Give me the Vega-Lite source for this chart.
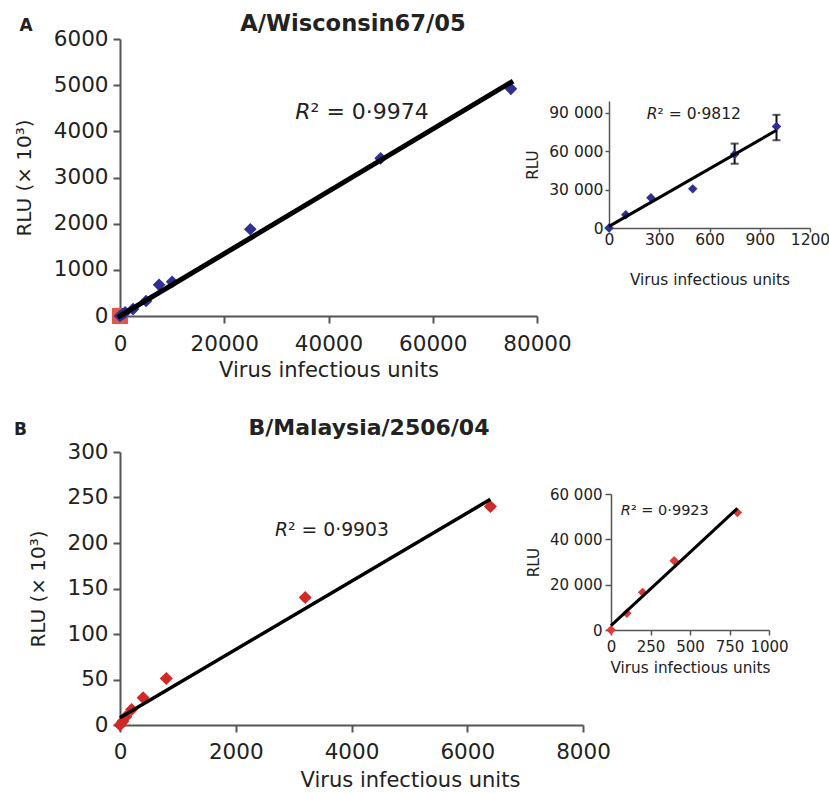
{
  "$schema": "https://vega.github.io/schema/vega-lite/v6.json",
  "padding": {"left": 14, "top": 12, "right": 0, "bottom": 0},
  "background": "white",
  "config": {
    "font": "DejaVu Sans",
    "view": {"stroke": null},
    "axis": {"grid": false, "labelFlush": false, "labelOverlap": false, "domainColor": "#555555", "tickColor": "#555555", "labelColor": "#222222", "titleColor": "#222222", "titleFontWeight": "normal", "labelFont": "DejaVu Sans", "titleFont": "DejaVu Sans"},
    "text": {"font": "DejaVu Sans", "color": "#222222"}
  },
  "datasets": {
    "a_pts": [
      {"x": 0, "y": 0}, {"x": 500, "y": 40}, {"x": 1000, "y": 80}, {"x": 2500, "y": 150},
      {"x": 5000, "y": 325}, {"x": 7500, "y": 675}, {"x": 10000, "y": 740},
      {"x": 25000, "y": 1880}, {"x": 50000, "y": 3415}, {"x": 75000, "y": 4920}
    ],
    "a_red": [{"x": 0, "y": 0}],
    "a_fit": [{"x": 0, "y": 0}, {"x": 75000, "y": 5060}],
    "a_txt": [
      {"part": "title", "t": "A/Wisconsin67/05", "x": 44700, "y": 6182},
      {"part": "panel", "t": "A", "x": -18034, "y": 6182},
      {"part": "R", "t": "R", "x": 36570, "y": 4273},
      {"part": "rest", "t": "² = 0·9974", "x": 36570, "y": 4273}
    ],
    "ai_pts": [
      {"x": 0, "y": 0}, {"x": 100, "y": 10400}, {"x": 250, "y": 23500},
      {"x": 500, "y": 30500}, {"x": 750, "y": 57400}, {"x": 1000, "y": 79100}
    ],
    "ai_err": [
      {"x": 750, "lo": 50100, "hi": 65800},
      {"x": 1000, "lo": 68400, "hi": 88200}
    ],
    "ai_fit": [{"x": 0, "y": 1300}, {"x": 1000, "y": 76200}],
    "ai_txt": [
      {"part": "R", "t": "R", "x": 290, "y": 84900},
      {"part": "rest", "t": "² = 0·9812", "x": 290, "y": 84900}
    ],
    "b_pts": [
      {"x": 0, "y": 0}, {"x": 50, "y": 4}, {"x": 100, "y": 9}, {"x": 200, "y": 17},
      {"x": 400, "y": 30}, {"x": 800, "y": 51}, {"x": 3200, "y": 140}, {"x": 6400, "y": 240}
    ],
    "b_fit": [{"x": 0, "y": 8}, {"x": 6400, "y": 248}],
    "b_txt": [
      {"part": "title", "t": "B/Malaysia/2506/04", "x": 4302, "y": 318.7},
      {"part": "panel", "t": "B", "x": -1719, "y": 318.7},
      {"part": "R", "t": "R", "x": 2903, "y": 207.2},
      {"part": "rest", "t": "² = 0·9903", "x": 2903, "y": 207.2}
    ],
    "bi_pts": [
      {"x": 0, "y": 0}, {"x": 100, "y": 7400}, {"x": 200, "y": 16600},
      {"x": 400, "y": 30600}, {"x": 800, "y": 51800}
    ],
    "bi_fit": [{"x": 0, "y": 1900}, {"x": 800, "y": 53700}],
    "bi_txt": [
      {"part": "R", "t": "R", "x": 126, "y": 50770},
      {"part": "rest", "t": "² = 0·9923", "x": 126, "y": 50770}
    ],
    "blank": [{"k": 1}]
  },
  "vconcat": [
    {
      "hconcat": [
        {
          "width": 417,
          "height": 277,
          "encoding": {
            "x": {"field": "x", "type": "quantitative", "scale": {"domain": [0, 80000], "nice": false, "zero": false},
              "axis": {"values": [0, 20000, 40000, 60000, 80000], "format": "d", "title": "Virus infectious units", "labelFontSize": 21.5, "titleFontSize": 21, "tickSize": 7, "tickWidth": 2, "domainWidth": 2, "labelPadding": 10, "titlePadding": 4.5}},
            "y": {"field": "y", "type": "quantitative", "scale": {"domain": [0, 6000], "nice": false, "zero": false},
              "axis": {"values": [0, 1000, 2000, 3000, 4000, 5000, 6000], "format": "d", "title": "RLU (× 10³)", "labelFontSize": 21.5, "titleFontSize": 20, "tickSize": 7, "tickWidth": 2, "domainWidth": 2, "labelPadding": 5, "titlePadding": 19}}
          },
          "layer": [
            {"data": {"name": "a_red"}, "mark": {"type": "square", "size": 260, "color": "#e0574c", "opacity": 1}},
            {"data": {"name": "a_pts"}, "mark": {"type": "point", "shape": "diamond", "filled": true, "size": 160, "color": "#2e3192", "opacity": 1}},
            {"data": {"name": "a_fit"}, "mark": {"type": "line", "color": "#000000", "strokeWidth": 5, "strokeCap": "square"}},
            {"data": {"name": "a_txt"}, "transform": [{"filter": "datum.part === 'title'"}], "mark": {"type": "text", "fontSize": 22.6, "fontWeight": "bold", "align": "center", "baseline": "alphabetic"}, "encoding": {"text": {"field": "t"}}},
            {"data": {"name": "a_txt"}, "transform": [{"filter": "datum.part === 'panel'"}], "mark": {"type": "text", "fontSize": 17, "fontWeight": "bold", "align": "center", "baseline": "alphabetic"}, "encoding": {"text": {"field": "t"}}},
            {"data": {"name": "a_txt"}, "transform": [{"filter": "datum.part === 'R'"}], "mark": {"type": "text", "fontSize": 22, "fontStyle": "italic", "align": "right", "baseline": "alphabetic"}, "encoding": {"text": {"field": "t"}}},
            {"data": {"name": "a_txt"}, "transform": [{"filter": "datum.part === 'rest'"}], "mark": {"type": "text", "fontSize": 22, "align": "left", "baseline": "alphabetic"}, "encoding": {"text": {"field": "t"}}}
          ]
        },
        {
          "vconcat": [
            {
              "width": 1,
              "height": 62,
              "data": {"name": "blank"},
              "mark": {"type": "point", "opacity": 0, "size": 1}
            },
            {
              "width": 201,
              "height": 127,
              "encoding": {
                "x": {"field": "x", "type": "quantitative", "scale": {"domain": [0, 1200], "nice": false, "zero": false},
                  "axis": {"values": [0, 300, 600, 900, 1200], "format": "d", "title": "Virus infectious  units", "labelFontSize": 15.5, "titleFontSize": 15.3, "tickSize": 4, "tickWidth": 1.5, "domainWidth": 1.5, "labelPadding": 0, "titlePadding": 25}},
                "y": {"field": "y", "type": "quantitative", "scale": {"domain": [0, 99000], "nice": false, "zero": false},
                  "axis": {"values": [0, 30000, 60000, 90000], "labelExpr": "replace(format(datum.value, ','), ',', ' ')", "title": "RLU", "labelFontSize": 15.5, "titleFontSize": 15.3, "tickSize": 4, "tickWidth": 1.5, "domainWidth": 1.5, "labelPadding": 2, "titlePadding": 8.6}}
              },
              "layer": [
                {"data": {"name": "ai_err"}, "mark": {"type": "rule", "color": "#111111", "strokeWidth": 2}, "encoding": {"y": {"field": "lo", "type": "quantitative"}, "y2": {"field": "hi"}}},
                {"data": {"name": "ai_err"}, "mark": {"type": "tick", "orient": "horizontal", "color": "#111111", "size": 8, "thickness": 2}, "encoding": {"y": {"field": "lo", "type": "quantitative"}}},
                {"data": {"name": "ai_err"}, "mark": {"type": "tick", "orient": "horizontal", "color": "#111111", "size": 8, "thickness": 2}, "encoding": {"y": {"field": "hi", "type": "quantitative"}}},
                {"data": {"name": "ai_pts"}, "mark": {"type": "point", "shape": "diamond", "filled": true, "size": 90, "color": "#2e3192", "opacity": 1}},
                {"data": {"name": "ai_fit"}, "mark": {"type": "line", "color": "#000000", "strokeWidth": 3}},
                {"data": {"name": "ai_txt"}, "transform": [{"filter": "datum.part === 'R'"}], "mark": {"type": "text", "fontSize": 15.5, "fontStyle": "italic", "align": "right", "baseline": "alphabetic"}, "encoding": {"text": {"field": "t"}}},
                {"data": {"name": "ai_txt"}, "transform": [{"filter": "datum.part === 'rest'"}], "mark": {"type": "text", "fontSize": 15.5, "align": "left", "baseline": "alphabetic"}, "encoding": {"text": {"field": "t"}}}
              ]
            }
          ],
          "spacing": 0
        }
      ],
      "spacing": -47
    },
    {
      "hconcat": [
        {
          "width": 463,
          "height": 273,
          "encoding": {
            "x": {"field": "x", "type": "quantitative", "scale": {"domain": [0, 8000], "nice": false, "zero": false},
              "axis": {"values": [0, 2000, 4000, 6000, 8000], "format": "d", "title": "Virus infectious units", "titleX": 290, "labelFontSize": 21.5, "titleFontSize": 21, "tickSize": 7, "tickWidth": 2, "domainWidth": 2, "labelPadding": 9, "titlePadding": 7}},
            "y": {"field": "y", "type": "quantitative", "scale": {"domain": [0, 300], "nice": false, "zero": false},
              "axis": {"values": [0, 50, 100, 150, 200, 250, 300], "format": "d", "title": "RLU (× 10³)", "labelFontSize": 21.5, "titleFontSize": 20, "tickSize": 7, "tickWidth": 2, "domainWidth": 2, "labelPadding": 5, "titlePadding": 18}}
          },
          "layer": [
            {"data": {"name": "b_pts"}, "mark": {"type": "point", "shape": "diamond", "filled": true, "size": 170, "color": "#cf2a27", "opacity": 1}},
            {"data": {"name": "b_fit"}, "mark": {"type": "line", "color": "#000000", "strokeWidth": 3.5}},
            {"data": {"name": "b_txt"}, "transform": [{"filter": "datum.part === 'title'"}], "mark": {"type": "text", "fontSize": 22, "fontWeight": "bold", "align": "center", "baseline": "alphabetic"}, "encoding": {"text": {"field": "t"}}},
            {"data": {"name": "b_txt"}, "transform": [{"filter": "datum.part === 'panel'"}], "mark": {"type": "text", "fontSize": 17, "fontWeight": "bold", "align": "center", "baseline": "alphabetic"}, "encoding": {"text": {"field": "t"}}},
            {"data": {"name": "b_txt"}, "transform": [{"filter": "datum.part === 'R'"}], "mark": {"type": "text", "fontSize": 18.8, "fontStyle": "italic", "align": "right", "baseline": "alphabetic"}, "encoding": {"text": {"field": "t"}}},
            {"data": {"name": "b_txt"}, "transform": [{"filter": "datum.part === 'rest'"}], "mark": {"type": "text", "fontSize": 18.8, "align": "left", "baseline": "alphabetic"}, "encoding": {"text": {"field": "t"}}}
          ]
        },
        {
          "vconcat": [
            {
              "width": 1,
              "height": 35,
              "data": {"name": "blank"},
              "mark": {"type": "point", "opacity": 0, "size": 1}
            },
            {
              "width": 158,
              "height": 136,
              "encoding": {
                "x": {"field": "x", "type": "quantitative", "scale": {"domain": [0, 1000], "nice": false, "zero": false},
                  "axis": {"values": [0, 250, 500, 750, 1000], "format": "d", "title": "Virus infectious units", "labelFontSize": 15, "titleFontSize": 15.3, "tickSize": 5, "tickWidth": 1.5, "domainWidth": 1.5, "labelPadding": 4, "titlePadding": 6}},
                "y": {"field": "y", "type": "quantitative", "scale": {"domain": [0, 60000], "nice": false, "zero": false},
                  "axis": {"values": [0, 20000, 40000, 60000], "labelExpr": "replace(format(datum.value, ','), ',', ' ')", "title": "RLU", "labelFontSize": 15, "titleFontSize": 15.3, "tickSize": 6, "tickWidth": 1.5, "domainWidth": 1.5, "labelPadding": 3, "titlePadding": 7.7}}
              },
              "layer": [
                {"data": {"name": "bi_pts"}, "mark": {"type": "point", "shape": "diamond", "filled": true, "size": 90, "color": "#e0393a", "opacity": 1}},
                {"data": {"name": "bi_fit"}, "mark": {"type": "line", "color": "#000000", "strokeWidth": 3}},
                {"data": {"name": "bi_txt"}, "transform": [{"filter": "datum.part === 'R'"}], "mark": {"type": "text", "fontSize": 14.5, "fontStyle": "italic", "align": "right", "baseline": "alphabetic"}, "encoding": {"text": {"field": "t"}}},
                {"data": {"name": "bi_txt"}, "transform": [{"filter": "datum.part === 'rest'"}], "mark": {"type": "text", "fontSize": 14.5, "align": "left", "baseline": "alphabetic"}, "encoding": {"text": {"field": "t"}}}
              ]
            }
          ],
          "spacing": 0
        }
      ],
      "spacing": -87
    }
  ],
  "spacing": 36
}
